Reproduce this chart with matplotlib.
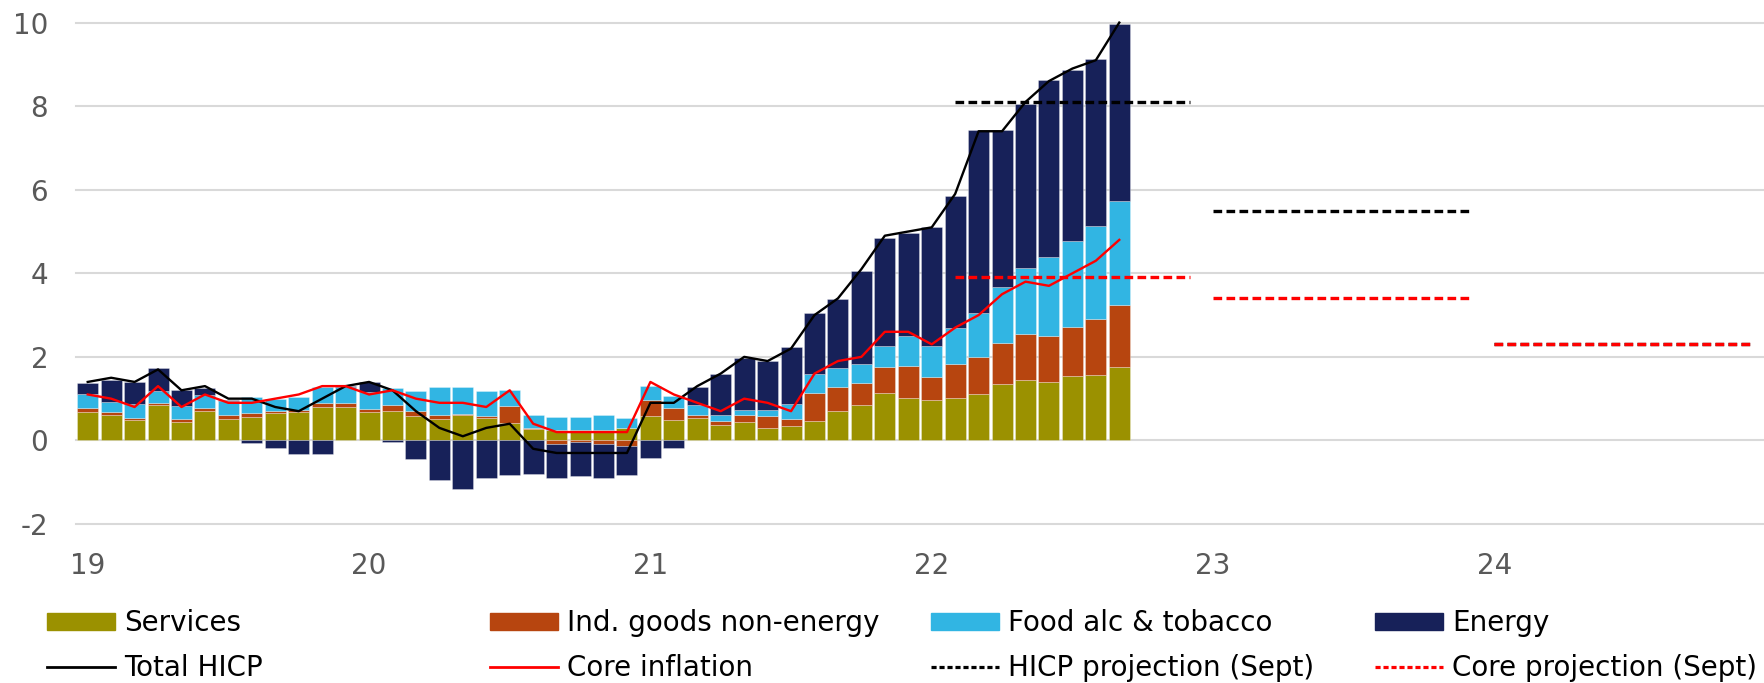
import matplotlib.pyplot as plt
import numpy as np
from matplotlib.patches import Patch
from matplotlib.lines import Line2D

plt.rcParams['font.family'] = 'DejaVu Sans'
plt.rcParams['axes.unicode_minus'] = False

# contributions to euro area HICP inflation, Jan 2019 - Sep 2022 (pp)
services = [0.69, 0.60, 0.50, 0.85, 0.45, 0.71, 0.51, 0.56, 0.65, 0.67, 0.81, 0.79,
            0.68, 0.71, 0.59, 0.52, 0.60, 0.54, 0.41, 0.28, 0.24, 0.24, 0.24, 0.29,
            0.58, 0.49, 0.53, 0.36, 0.43, 0.29, 0.34, 0.46, 0.71, 0.84, 1.13, 1.01,
            0.96, 1.01, 1.10, 1.34, 1.44, 1.40, 1.54, 1.56, 1.75]
ind_goods = [0.08, 0.09, 0.03, 0.05, 0.07, 0.06, 0.09, 0.09, 0.06, 0.06, 0.09, 0.11,
             0.08, 0.13, 0.12, 0.08, 0.03, 0.04, 0.42, 0.01, -0.08, -0.03, -0.08, -0.14,
             0.38, 0.29, 0.08, 0.11, 0.19, 0.29, 0.18, 0.68, 0.58, 0.54, 0.62, 0.77,
             0.55, 0.81, 0.90, 1.00, 1.10, 1.11, 1.18, 1.34, 1.49]
food = [0.34, 0.22, 0.34, 0.29, 0.31, 0.32, 0.35, 0.40, 0.28, 0.30, 0.39, 0.37,
        0.41, 0.41, 0.47, 0.68, 0.66, 0.60, 0.38, 0.32, 0.32, 0.32, 0.36, 0.24,
        0.34, 0.29, 0.24, 0.14, 0.11, 0.14, 0.35, 0.44, 0.44, 0.44, 0.50, 0.72,
        0.75, 0.88, 1.04, 1.34, 1.58, 1.87, 2.06, 2.24, 2.48]
energy = [0.26, 0.53, 0.53, 0.54, 0.38, 0.16, 0.02, -0.06, -0.18, -0.32, -0.32, 0.03,
          0.22, -0.04, -0.44, -0.95, -1.17, -0.91, -0.83, -0.81, -0.82, -0.82, -0.82, -0.69,
          -0.42, -0.18, 0.42, 0.98, 1.25, 1.19, 1.36, 1.46, 1.66, 2.24, 2.60, 2.46,
          2.84, 3.16, 4.38, 3.74, 3.93, 4.24, 4.08, 4.00, 4.24]
total_hicp = [1.4, 1.5, 1.4, 1.7, 1.2, 1.3, 1.0, 1.0, 0.8, 0.7, 1.0, 1.3,
              1.4, 1.2, 0.7, 0.3, 0.1, 0.3, 0.4, -0.2, -0.3, -0.3, -0.3, -0.3,
              0.9, 0.9, 1.3, 1.6, 2.0, 1.9, 2.2, 3.0, 3.4, 4.1, 4.9, 5.0,
              5.1, 5.9, 7.4, 7.4, 8.1, 8.6, 8.9, 9.1, 10.0]
core = [1.1, 1.0, 0.8, 1.3, 0.8, 1.1, 0.9, 0.9, 1.0, 1.1, 1.3, 1.3,
        1.1, 1.2, 1.0, 0.9, 0.9, 0.8, 1.2, 0.4, 0.2, 0.2, 0.2, 0.2,
        1.4, 1.1, 0.9, 0.7, 1.0, 0.9, 0.7, 1.6, 1.9, 2.0, 2.6, 2.6,
        2.3, 2.7, 3.0, 3.5, 3.8, 3.7, 4.0, 4.3, 4.8]

# September projections: first / last month (index from Jan 2019) and annual value
proj_first = [37, 48, 60]
proj_last = [47, 59, 71]
hicp_proj = [8.1, 5.5, 2.3]
core_proj = [3.9, 3.4, 2.3]

year_labels = ['19', '20', '21', '22', '23', '24']

c_serv = '#9b9100'
c_goods = '#b7450f'
c_food = '#31b5e3'
c_energy = '#172159'
grey = '#595959'

W, H = 1764, 683
fig = plt.figure(figsize=(W / 100, H / 100), dpi=100)
ax = fig.add_axes([76 / W, 1 - 524 / H, 1688 / W, (524 - 22.6) / H])

x = np.arange(len(services))
pos_base = np.zeros(len(x))
neg_base = np.zeros(len(x))
for vals, col in [(services, c_serv), (ind_goods, c_goods), (food, c_food), (energy, c_energy)]:
    v = np.array(vals)
    bottom = np.where(v >= 0, pos_base, neg_base)
    ax.bar(x, v, 0.9, bottom=bottom, color=col, edgecolor=(1, 1, 1, 0.35),
           linewidth=0.6, zorder=2)
    pos_base += np.clip(v, 0, None)
    neg_base += np.clip(v, None, 0)

ax.plot(x, total_hicp, color='black', lw=1.7, zorder=3, clip_on=False)
ax.plot(x, core, color='#ff0000', lw=1.7, zorder=4, clip_on=False)

for i in range(len(hicp_proj)):
    ax.plot([proj_first[i], proj_last[i]], [hicp_proj[i]] * 2, color='black', lw=2.4,
            dashes=(2.6, 1.3), zorder=3)
for i in range(len(core_proj)):
    ax.plot([proj_first[i], proj_last[i]], [core_proj[i]] * 2, color='#ff0000', lw=2.4,
            dashes=(2.6, 1.3), zorder=4)

yt = np.arange(-2, 11, 2)
for y in yt:
    ax.axhline(y, color='#d9d9d9', lw=1.5, zorder=1, clip_on=False)

ax.set_xlim(-0.5, 71.5)
ax.set_ylim(-2, 10)
ax.set_yticks(yt)
ax.set_yticklabels([str(v) for v in yt])
ax.set_xticks(np.arange(0, 72, 12))
ax.set_xticklabels(year_labels)
ax.tick_params(axis='both', length=0, labelsize=20, labelcolor=grey)
ax.tick_params(axis='x', pad=20)
ax.tick_params(axis='y', pad=20)
for s in ax.spines.values():
    s.set_visible(False)

# legend: four columns, two rows
columns = [
    (47, Patch(color=c_serv), 'Services', Line2D([], [], color='black', lw=2), 'Total HICP'),
    (490, Patch(color=c_goods), 'Ind. goods non-energy', Line2D([], [], color='#ff0000', lw=2), 'Core inflation'),
    (931, Patch(color=c_food), 'Food alc & tobacco',
     Line2D([], [], color='black', lw=2.3, dashes=(1.6, 0.9)), 'HICP projection (Sept)'),
    (1375, Patch(color=c_energy), 'Energy',
     Line2D([], [], color='#ff0000', lw=2.3, dashes=(1.6, 0.9)), 'Core projection (Sept)'),
]
for xpos, h1, l1, h2, l2 in columns:
    fig.legend([h1, h2], [l1, l2], loc='upper left', bbox_to_anchor=(xpos / W, 1 - 609 / H),
               frameon=False, fontsize=20, borderpad=0, borderaxespad=0,
               handlelength=2.45, handleheight=0.58, handletextpad=0.32, labelspacing=0.62)

fig.savefig('out.png', dpi=100)
